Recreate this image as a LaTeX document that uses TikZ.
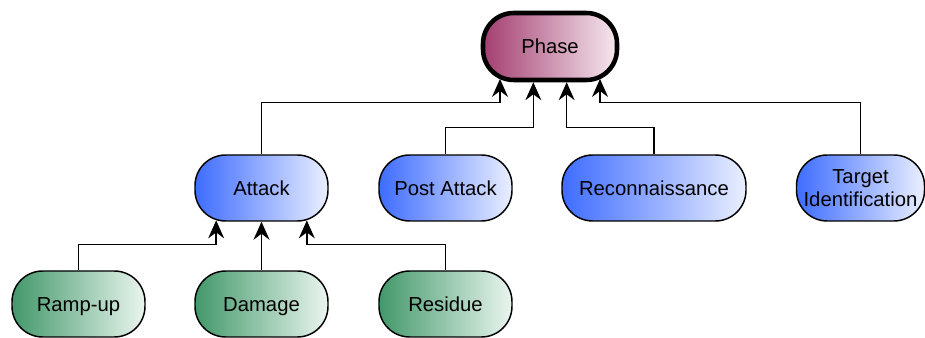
\documentclass[tikz,border=0pt]{standalone}
\usepackage{fontspec}
\setmainfont{Liberation Sans}
\usetikzlibrary{arrows.meta}
\definecolor{phaseL}{RGB}{163,62,112}
\definecolor{phaseR}{RGB}{246,232,239}
\definecolor{blueL}{RGB}{62,108,255}
\definecolor{blueR}{RGB}{234,239,255}
\definecolor{greenL}{RGB}{66,152,106}
\definecolor{greenR}{RGB}{234,245,239}
\tikzset{
  pill/.style={draw=black, line width=1.1pt, rectangle, rounded corners=23pt,
    minimum height=49.5pt, minimum width=99.75pt, inner sep=0pt, align=center,
    font=\fontsize{15.2pt}{17pt}\selectfont, shading=axis, shading angle=90},
  oneline/.style={text height=10.9pt, text depth=0pt},
  phasebox/.style={pill, oneline, line width=3.4pt, left color=phaseL, right color=phaseR, minimum width=100.5pt, minimum height=50.25pt},
  bluebox/.style={pill, left color=blueL, right color=blueR},
  greenbox/.style={pill, oneline, left color=greenL, right color=greenR},
  conn/.style={draw=black, line width=1.1pt, -{Stealth[length=13.5pt,width=12pt,inset=4.5pt]}}
}
\begin{document}
\begin{tikzpicture}[x=0.75pt,y=-0.75pt]
\useasboundingbox (0,0) rectangle (925,338);
\node[phasebox] (phase) at (550,46.5) {Phase};
\node[bluebox, oneline] (attack) at (261.5,188) {Attack};
\node[bluebox, oneline] (post) at (445.5,188) {Post Attack};
\node[bluebox, oneline, minimum width=138pt] (recon) at (654,188) {Reconnaissance};
\node[bluebox, minimum width=96pt, text depth=0pt] (target) at (860.5,188) {Target\\Identification};
\node[greenbox] (ramp) at (78.5,304) {Ramp-up};
\node[greenbox] (damage) at (261.5,304) {Damage};
\node[greenbox] (residue) at (445.5,304) {Residue};

\draw[conn] (attack.north) -- ++(0,-52) -| ([xshift=-37.5pt,yshift=2.5pt]phase.south);
\draw[conn] (post.north) -- ++(0,-27) -| ([xshift=-12.5pt]phase.south);
\draw[conn] (recon.north) -- ++(0,-27) -| ([xshift=12.5pt]phase.south);
\draw[conn] (target.north) -- ++(0,-52) -| ([xshift=37.5pt,yshift=2.5pt]phase.south);

\draw[conn] (ramp.north) -- ++(0,-26) -| ([xshift=-34pt,yshift=1pt]attack.south);
\draw[conn] (damage.north) -- (attack.south);
\draw[conn] (residue.north) -- ++(0,-26) -| ([xshift=34pt,yshift=1pt]attack.south);
\end{tikzpicture}
\end{document}
